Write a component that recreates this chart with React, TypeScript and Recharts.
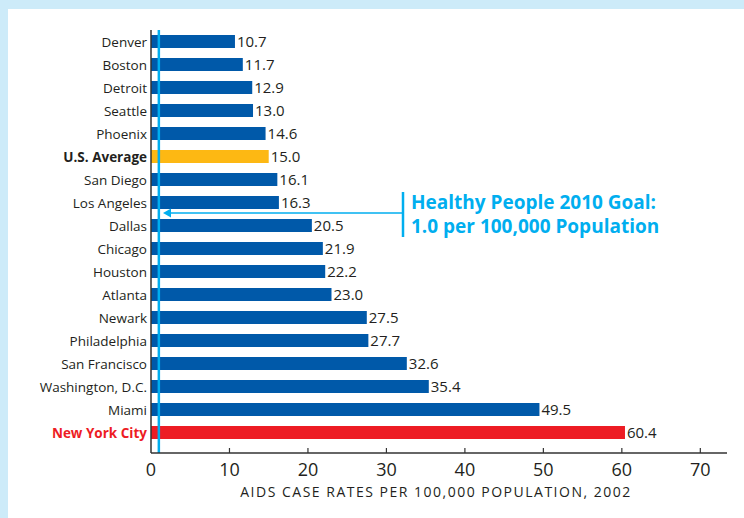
import React from "react";
import { BarChart, Bar, XAxis, YAxis, Cell, LabelList, ReferenceLine } from "recharts";

const cities = [
  "Denver", "Boston", "Detroit", "Seattle", "Phoenix", "U.S. Average", "San Diego", "Los Angeles",
  "Dallas", "Chicago", "Houston", "Atlanta", "Newark", "Philadelphia", "San Francisco",
  "Washington, D.C.", "Miami", "New York City",
];
const rates = [10.7, 11.7, 12.9, 13.0, 14.6, 15.0, 16.1, 16.3, 20.5, 21.9, 22.2, 23.0, 27.5, 27.7, 32.6, 35.4, 49.5, 60.4];
const xTicks = [0, 10, 20, 30, 40, 50, 60, 70];
const GOAL = 1.0;
const axisTitle = "AIDS CASE RATES PER 100,000 POPULATION, 2002";
const goalLine1 = "Healthy People 2010 Goal:";
const goalLine2 = "1.0 per 100,000 Population";

const BLUE = "#0059a9";
const GOLD = "#fdb813";
const RED = "#ed1c24";
const CYAN = "#00aeef";
const TEXT = "#231f20";
const FONT = "'Open Sans', 'Noto Sans', sans-serif";

const data = cities.map((c, i) => ({ city: c, rate: rates[i] }));

const barColor = (c: string) => (c === "U.S. Average" ? GOLD : c === "New York City" ? RED : BLUE);

const YTick = (props: any) => {
  const { x, y, payload } = props;
  const v = payload.value;
  const bold = v === "U.S. Average" || v === "New York City";
  const fill = v === "New York City" ? RED : TEXT;
  return (
    <text x={x} y={y} dy={5} textAnchor="end" fontSize={13.5} fontFamily={FONT} fontWeight={bold ? 700 : 400} fill={fill}>
      {v}
    </text>
  );
};

const XTick = (props: any) => {
  const { x, y, payload } = props;
  return (
    <g>
      {payload.value !== 0 && <line x1={x} x2={x} y1={y} y2={y - 5} stroke="#333" strokeWidth={1.2} />}
      <text x={x} y={y + 23} textAnchor="middle" fontSize={18} fontFamily={FONT} fill={TEXT}>
        {payload.value}
      </text>
    </g>
  );
};

export default function App() {
  return (
    <div style={{ position: "absolute", left: 0, top: 0, width: 744, height: 518, background: "#cdebf9", overflow: "hidden" }}>
      <div style={{ position: "absolute", left: 8, top: 9, width: 736, height: 509, background: "#ffffff" }} />
      <div style={{ position: "absolute", left: 0, top: 0 }}>
        <BarChart
          width={744}
          height={518}
          data={data}
          layout="vertical"
          margin={{ top: 30, right: 17, bottom: 15, left: 0 }}
        >
          <XAxis
            type="number"
            domain={[0, 73.4]}
            ticks={xTicks}
            interval={0}
            tickLine={false}
            tickSize={0}
            tickMargin={0}
            height={50}
            axisLine={{ stroke: "#333", strokeWidth: 1.5 }}
            tick={<XTick />}
          />
          <YAxis
            type="category"
            dataKey="city"
            width={151}
            interval={0}
            padding={{ top: 0, bottom: 9 }}
            tickLine={false}
            tickSize={0}
            tickMargin={4}
            axisLine={{ stroke: "#333", strokeWidth: 1.5 }}
            tick={<YTick />}
          />
          <Bar dataKey="rate" barSize={13} isAnimationActive={false}>
            {data.map((d) => (
              <Cell key={d.city} fill={barColor(d.city)} />
            ))}
            <LabelList
              dataKey="rate"
              position="right"
              offset={2}
              fontSize={15}
              fontFamily={FONT}
              fill={TEXT}
              formatter={(v: any) => Number(v).toFixed(1)}
            />
          </Bar>
          <ReferenceLine x={GOAL} stroke={CYAN} strokeWidth={2.5} ifOverflow="extendDomain" />
        </BarChart>
      </div>
      <svg width={744} height={518} style={{ position: "absolute", left: 0, top: 0, pointerEvents: "none" }}>
        <line x1={168} x2={403} y1={213} y2={213} stroke={CYAN} strokeWidth={1.5} />
        <polygon points="163,213 171,208.5 171,217.5" fill={CYAN} />
        <line x1={403} x2={403} y1={192} y2={237} stroke={CYAN} strokeWidth={2.5} />
        <text x={411} y={209} fontSize={19} fontWeight={700} fontFamily={FONT} fill={CYAN}>{goalLine1}</text>
        <text x={411} y={233} fontSize={19} fontWeight={700} fontFamily={FONT} fill={CYAN}>{goalLine2}</text>
        <text x={436} y={497} textAnchor="middle" fontSize={14} letterSpacing={1.5} fontFamily={FONT} fill={TEXT}>{axisTitle}</text>
      </svg>
    </div>
  );
}
